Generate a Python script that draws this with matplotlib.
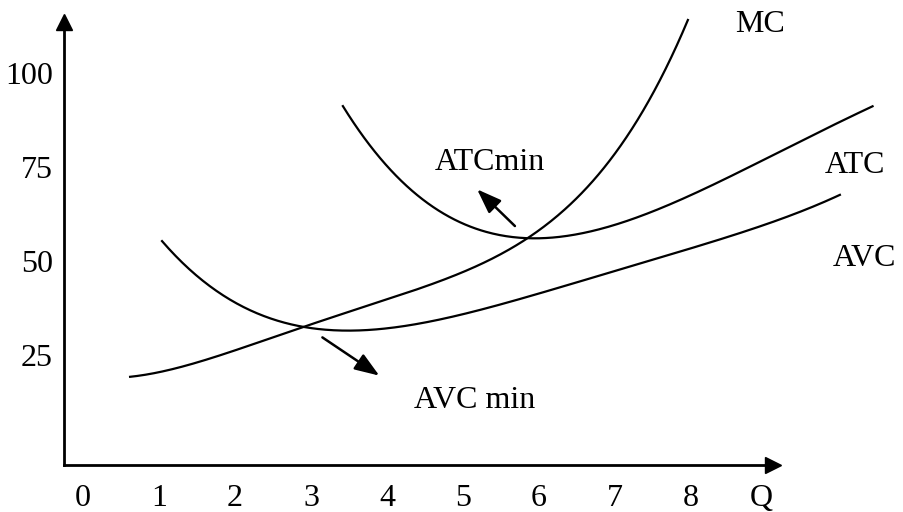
import matplotlib.pyplot as plt
import numpy as np

# cost curves (Q, cost)
mc_q = [0.62, 1.67, 2.99, 4.17, 5.05, 5.79, 6.28, 6.71, 7.16, 7.46, 7.72, 7.96]
mc_v = [18.9, 25.0, 32.2, 40.4, 48.4, 55.6, 62.8, 71.5, 82.2, 92.8, 103.5, 114.6]

atc_q = [3.42, 3.64, 4.17, 5.05, 5.71, 6.37, 6.80, 7.46, 8.78, 10.39]
atc_v = [91.0, 84.8, 71.5, 60.1, 55.6, 56.4, 59.0, 63.0, 75.0, 91.2]

avc_q = [1.04, 1.54, 2.20, 2.95, 3.51, 4.61, 5.49, 6.80, 7.89, 9.96]
avc_v = [55.1, 45.7, 37.0, 32.2, 31.1, 34.3, 38.8, 45.7, 52.9, 67.6]

xticks = [0, 1, 2, 3, 4, 5, 6, 7, 8]
yticks = [25, 50, 75, 100]

plt.rcParams['font.family'] = ['Liberation Serif', 'DejaVu Serif']

fig = plt.figure(figsize=(9.04, 5.12), dpi=100)
ax = fig.add_axes([64/904, 47/512, 709/904, 443/512])
ax.set_xlim(-0.25, 9.08)
ax.set_ylim(-4.26, 113.6)


def smooth(q, v, deg=4):
    # least squares curve through the read points
    c = np.polyfit(q, v, deg)
    t = np.linspace(q[0], q[-1], 400)
    return t, np.polyval(c, t)


for q, v in [(mc_q, mc_v), (atc_q, atc_v), (avc_q, avc_v)]:
    t, s = smooth(q, v)
    ax.plot(t, s, color='black', lw=1.6, clip_on=False)

# curve labels
ax.text(8.91, 113, "MC", fontsize=23, ha='center', va='center')
ax.text(10.16, 75.5, "ATC", fontsize=23, ha='center', va='center', clip_on=False)
ax.text(10.29, 50.8, "AVC", fontsize=23, ha='center', va='center', clip_on=False)
ax.text(5.36, 76.3, "ATCmin", fontsize=23, ha='center', va='center')
ax.text(5.16, 13.0, "AVC min", fontsize=23, ha='center', va='center')

arrow = dict(arrowstyle='-|>,head_length=1.5,head_width=0.55', color='black', lw=1.8)
ax.annotate("", xy=(5.16, 69.6), xytext=(5.71, 58.8), arrowprops=arrow)
ax.annotate("", xy=(3.93, 19.1), xytext=(3.12, 30.1), arrowprops=arrow)

# axes as arrows
for s in ['top', 'right']:
    ax.spines[s].set_visible(False)
ax.spines['left'].set_linewidth(2)
ax.spines['bottom'].set_linewidth(2)
ax.plot(1, 0, '>k', ms=12, transform=ax.transAxes, clip_on=False)
ax.plot(0, 1, '^k', ms=12, transform=ax.transAxes, clip_on=False)

ax.set_xticks(xticks + [8.93])
ax.set_xticklabels([str(x) for x in xticks] + ['Q'], fontsize=23)
ax.set_yticks(yticks)
ax.set_yticklabels([str(y) for y in yticks], fontsize=23)
ax.tick_params(axis='x', length=0, pad=14)
ax.tick_params(axis='y', length=0, pad=8)

plt.savefig("out.png", dpi=100)
